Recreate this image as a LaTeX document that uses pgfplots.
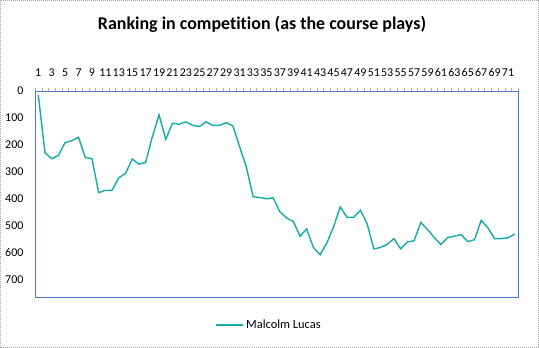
\documentclass[border=0pt]{standalone}
\usepackage{pgfplots}
\pgfplotsset{compat=1.18}
\usepackage{fontspec}
\setmainfont[Ligatures={NoCommon}]{Carlito}
\definecolor{serie}{RGB}{20,172,166}
\definecolor{frameblue}{RGB}{80,120,210}
\begin{document}
\begin{tikzpicture}[x=1bp,y=1bp]
\draw[gray!70, dash pattern=on 1bp off 1bp, line width=0.8bp] (0.5,0.5) rectangle (538.5,347.5);
\node[font=\fontsize{18}{20}\selectfont\bfseries] at (262,324) {Ranking in competition (as the course plays)};
\begin{axis}[
  at={(35bp,51bp)}, anchor=south west,
  scale only axis, width=483bp, height=206bp,
  xmin=0.5, xmax=72.5, ymin=0, ymax=766,
  y dir=reverse,
  /pgf/number format/assume math mode=true,
  axis line style={frameblue, line width=0.8bp},
  xtick={1,3,...,71},
  minor xtick={0.5,1.5,...,72.5},
  xticklabel pos=upper,
  xtick pos=upper,
  tick align=outside,
  major tick length=0pt,
  minor tick length=2.5bp,
  minor tick style={gray!60},
  ytick={0,100,...,700},
  ytick style={draw=none},
  tick label style={font=\fontsize{12}{14}\selectfont},
  xticklabel style={anchor=base, yshift=14bp},
  yticklabel style={xshift=-8bp},
  legend style={at={(0.485,-0.136)}, anchor=center, draw=none, font=\fontsize{12.5}{14}\selectfont, legend cell align=left},
  legend image code/.code={\draw[#1] (0bp,0bp) -- (27bp,0bp);},
]
\addplot[serie, line width=1.4bp, mark=none] coordinates {
(1,15) (2,230) (3,252) (4,240) (5,192) (6,185) (7,172) (8,247) (9,252) (10,378)
(11,369) (12,369) (13,323) (14,307) (15,253) (16,272) (17,266) (18,170) (19,89) (20,180)
(21,120) (22,124) (23,115) (24,128) (25,132) (26,115) (27,128) (28,128) (29,118) (30,130)
(31,207) (32,282) (33,393) (34,396) (35,401) (36,397) (37,449) (38,472) (39,485) (40,540)
(41,513) (42,582) (43,609) (44,565) (45,505) (46,431) (47,470) (48,470) (49,443) (50,493)
(51,587) (52,582) (53,570) (54,549) (55,587) (56,561) (57,557) (58,489) (59,515) (60,545)
(61,571) (62,545) (63,540) (64,534) (65,560) (66,553) (67,481) (68,509) (69,549) (70,549)
(71,546) (72,532)
};
\addlegendentry{Malcolm Lucas}
\end{axis}
\end{tikzpicture}
\end{document}
